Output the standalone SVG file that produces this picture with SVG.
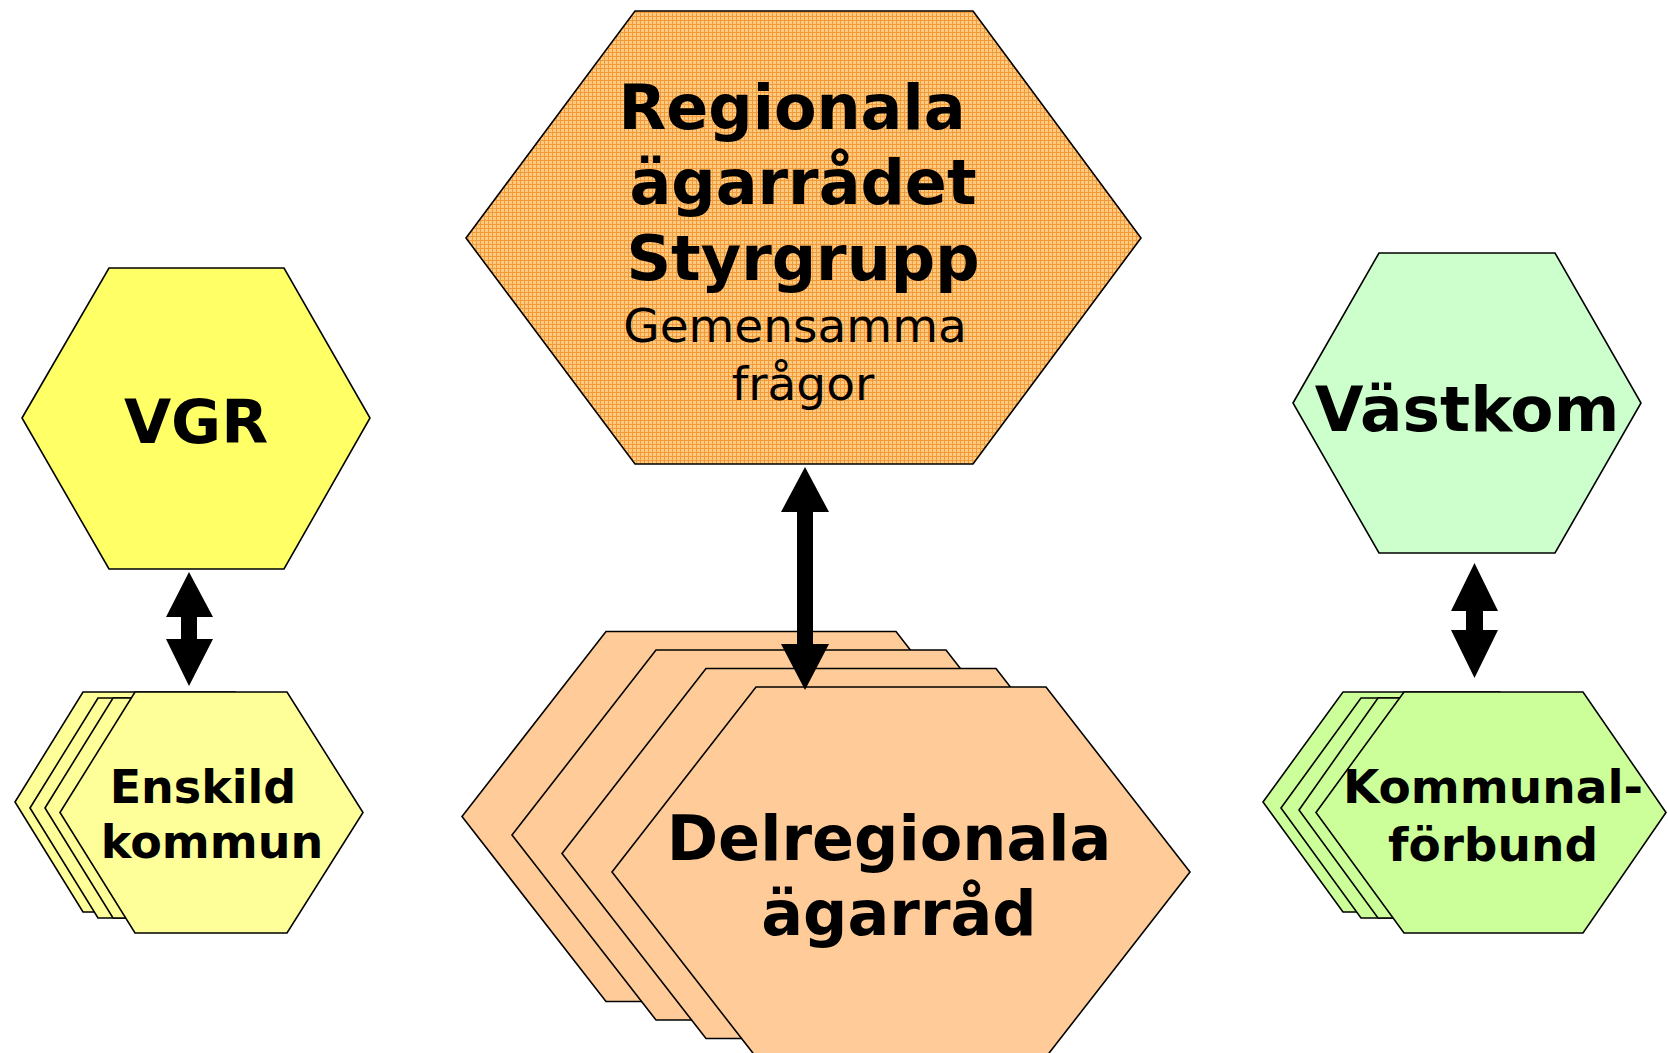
<svg xmlns="http://www.w3.org/2000/svg" width="1668" height="1053" viewBox="0 0 1668 1053">
<defs>
<pattern id="grid" width="4" height="4" patternUnits="userSpaceOnUse">
<rect width="4" height="4" fill="#FFC97F"/>
<path d="M0 0.5H4M0.5 0V4" stroke="#F29A3A" stroke-width="1"/>
</pattern>
<style>
.hx{stroke:#000;stroke-width:1.6;stroke-linejoin:miter}
.vgr{fill:#FFFF66}
.ens{fill:#FFFF99}
.vk{fill:#CCFFCC}
.kf{fill:#CCFF99}
.del{fill:#FFCC99}
.reg{fill:url(#grid)}
.b{font-family:"DejaVu Sans","Verdana",sans-serif;font-weight:bold;fill:#000;text-anchor:middle}
.r{font-family:"DejaVu Sans","Verdana",sans-serif;font-weight:normal;fill:#000;text-anchor:middle}
.arr{fill:#000}
</style>
</defs>
<rect width="1668" height="1053" fill="#fff"/>

<g id="delregionala">
<polygon class="hx del" points="462,816.5 606,631.5 896,631.5 1040,816.5 896,1001.5 606,1001.5"/>
<polygon class="hx del" points="512,835 656,650 946,650 1090,835 946,1020 656,1020"/>
<polygon class="hx del" points="562,853.5 706,668.5 996,668.5 1140,853.5 996,1038.5 706,1038.5"/>
<polygon class="hx del" points="612,872 756,687 1046,687 1190,872 1046,1057 756,1057"/>
<text class="b" font-size="62" x="889" y="860">Delregionala</text>
<text class="b" font-size="62" x="899" y="935">ägarråd</text>
</g>

<g id="regionala">
<polygon class="hx reg" points="466,238 635,11 973,11 1141,238 973,464 635,464"/>
<text class="b" font-size="62" x="792" y="129">Regionala</text>
<text class="b" font-size="62" x="803" y="204">ägarrådet</text>
<text class="b" font-size="62" x="803" y="280">Styrgrupp</text>
<text class="r" font-size="47" x="795" y="342">Gemensamma</text>
<text class="r" font-size="47" x="803" y="400">frågor</text>
</g>

<g id="vgr">
<polygon class="hx vgr" points="22,418 109,268 284,268 370,418 284,569 109,569"/>
<text class="b" font-size="61" x="196" y="443">VGR</text>
</g>

<g id="enskild">
<polygon class="hx ens" points="15,802 83,692 235,692 303,802 235,912 83,912"/>
<polygon class="hx ens" points="30,808 98,698 250,698 318,808 250,918 98,918"/>
<polygon class="hx ens" points="45,808 113,698 265,698 333,808 265,918 113,918"/>
<polygon class="hx ens" points="60,812.5 135,692 287,692 363,812.5 287,933 135,933"/>
<text class="b" font-size="46" x="203" y="803">Enskild</text>
<text class="b" font-size="46" x="212" y="858">kommun</text>
</g>

<g id="vastkom">
<polygon class="hx vk" points="1293,403 1379,253 1555,253 1641,403 1555,553 1379,553"/>
<text class="b" font-size="63" x="1467" y="431">Västkom</text>
</g>

<g id="kommunalforbund">
<polygon class="hx kf" points="1263,802 1343,692 1500,692 1580,802 1500,912 1343,912"/>
<polygon class="hx kf" points="1281,808 1361,698 1518,698 1598,808 1518,918 1361,918"/>
<polygon class="hx kf" points="1299,810 1378,698 1535,698 1615,810 1535,918 1378,918"/>
<polygon class="hx kf" points="1316,812.5 1404,692 1583,692 1666,812.5 1583,933 1404,933"/>
<text class="b" font-size="47" x="1493" y="803">Kommunal-</text>
<text class="b" font-size="47" x="1493" y="861">förbund</text>
</g>

<g id="connectors">
<polygon class="arr" points="189,572 213,617 197,617 197,639 213,639 189,686 166,639 181,639 181,617 166,617"/>
<polygon class="arr" points="805,467 829,512 813,512 813,644 829,644 805,690 781,644 797,644 797,512 781,512"/>
<polygon class="arr" points="1474.5,563 1498,611 1483,611 1483,630 1498,630 1474.5,678 1451,630 1466,630 1466,611 1451,611"/>
</g>
</svg>
